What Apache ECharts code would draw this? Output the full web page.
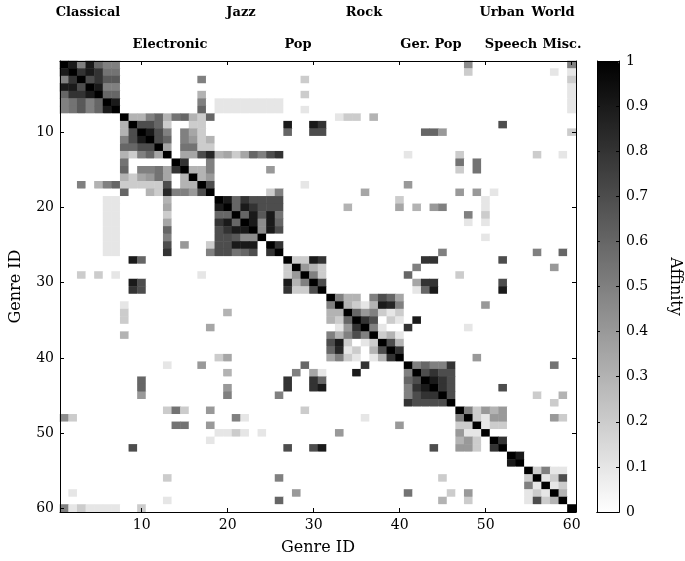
<!DOCTYPE html>
<html>
<head>
<meta charset="utf-8">
<script src="https://cdn.jsdelivr.net/npm/echarts@6/dist/echarts.min.js"></script>
<style>
html,body{margin:0;padding:0;background:#ffffff;}
#chart{width:685px;height:561px;}
</style>
</head>
<body>
<div id="chart"></div>
<script>
// ---------------- DATA ----------------
const genreIds = [1,2,3,4,5,6,7,8,9,10,11,12,13,14,15,16,17,18,19,20,
  21,22,23,24,25,26,27,28,29,30,31,32,33,34,35,36,37,38,39,40,
  41,42,43,44,45,46,47,48,49,50,51,52,53,54,55,56,57,58,59,60];
const axisTickLabels = [10,20,30,40,50,60];
const colorbarTicks = [0,0.1,0.2,0.3,0.4,0.5,0.6,0.7,0.8,0.9,1];
const groupNamesTop = ['Classical','Jazz','Rock','Urban','World'];
const groupNamesBottom = ['Electronic','Pop','Ger. Pop','Speech','Misc.'];
// self-affinity on the diagonal (genre 1..60)
const diagonalAffinity = [1,1,1,1,1,1,1,1,1,1,1,1,1,1,1,1,1,1,1,1,
  1,1,1,1,1,1,1,1,1,1,1,1,1,1,1,1,1,1,1,1,
  1,1,1,1,1,1,1,1,1,1,1,1,1,1,1,1,1,1,1,1];
// symmetric affinity pairs [genreA, genreB, affinity]
const affinityPairs = [
  // Classical
  [1,2,.9],[1,3,.5],[1,4,.9],[1,5,.6],[1,6,.5],[1,7,.5],
  [2,3,.8],[2,4,.9],[2,5,.8],[2,6,.55],[2,7,.55],
  [3,4,.7],[3,5,.8],[3,6,.65],[3,7,.65],
  [4,5,.9],[4,6,.5],[4,7,.5],
  [5,6,.6],[5,7,.6],
  [6,7,.9],
  [3,17,.5],[5,17,.3],[6,17,.5],[7,17,.6],
  [6,19,.1],[6,20,.1],[6,21,.1],[6,22,.1],[6,23,.1],[6,24,.1],[6,25,.1],[6,26,.1],
  [7,19,.1],[7,20,.1],[7,21,.1],[7,22,.1],[7,23,.1],[7,24,.1],[7,25,.1],[7,26,.1],
  [3,29,.2],[5,29,.2],[7,29,.1],
  [1,48,.45],[2,48,.2],[2,58,.1],
  [1,60,.5],[2,60,.1],[3,60,.2],[4,60,.1],[5,60,.1],[6,60,.1],[7,60,.1],
  // Electronic
  [8,9,.3],[8,10,.3],[8,11,.5],[8,12,.6],[8,13,.3],[8,14,.55],[8,15,.6],[8,16,.3],[8,17,.2],[8,18,.6],
  [9,10,.7],[9,11,.7],[9,12,.6],[9,13,.2],[9,16,.2],[9,17,.2],
  [10,11,.9],[10,12,.7],[10,13,.5],[10,15,.5],[10,16,.35],[10,17,.2],
  [11,12,.7],[11,13,.6],[11,15,.5],[11,16,.4],[11,17,.2],[11,18,.3],
  [12,13,.35],[12,15,.55],[12,16,.55],[12,17,.2],[12,18,.2],
  [13,15,.35],[13,16,.35],[13,17,.7],[13,18,.85],
  [14,15,.8],[14,18,.5],
  [15,16,.3],[15,17,.3],[15,18,.5],
  [16,17,.3],[16,18,.4],
  [17,18,.7],
  [8,33,.1],[8,34,.2],[8,35,.2],[8,37,.3],
  [9,27,.9],[9,30,.9],[9,31,.8],[9,52,.7],
  [10,27,.6],[10,30,.7],[10,31,.7],[10,43,.6],[10,44,.6],[10,45,.4],[10,60,.2],
  [13,19,.3],[13,20,.35],[13,21,.2],[13,22,.35],[13,23,.6],[13,24,.5],[13,25,.7],[13,26,.8],
  [13,41,.1],[13,47,.2],[13,56,.2],[13,59,.1],
  [14,47,.55],[14,49,.55],
  [15,25,.4],[15,47,.2],[15,49,.55],
  [17,29,.1],[17,41,.4],
  [18,25,.2],[18,26,.5],[18,36,.35],[18,47,.4],[18,49,.4],[18,51,.1],
  // Jazz
  [19,20,.9],[19,21,.6],[19,22,.8],[19,23,.7],[19,24,.7],[19,25,.7],[19,26,.7],
  [20,21,.6],[20,22,.9],[20,23,.8],[20,24,.7],[20,25,.7],[20,26,.7],
  [21,22,.6],[21,23,.9],[21,24,.65],[21,25,.9],[21,26,.55],
  [22,23,.9],[22,24,.45],[22,25,.9],[22,26,.6],
  [23,24,.45],[23,25,.9],[23,26,.7],
  [25,26,.8],
  [19,40,.2],[19,50,.1],[20,34,.3],[20,40,.35],[20,42,.3],[20,44,.4],[20,45,.5],[20,50,.1],
  [21,48,.5],[21,50,.2],[22,48,.1],[22,50,.1],[24,50,.1],
  [26,45,.5],[26,56,.5],[26,59,.6],
  // Pop
  [27,28,.2],[27,29,.2],[27,30,.9],[27,31,.8],
  [28,29,.4],[28,30,.3],[28,31,.2],
  [29,30,.5],[29,31,.2],
  [30,31,.7],
  [27,43,.8],[27,44,.8],[27,52,.7],[28,42,.5],[28,58,.4],[29,41,.6],[29,47,.2],
  [30,42,.35],[30,43,.8],[30,44,.8],[30,52,.7],[31,42,.1],[31,43,.6],[31,44,.9],[31,52,.9],
  // Rock
  [32,33,.5],[32,34,.3],[32,35,.3],[32,37,.5],[32,38,.7],[32,39,.6],[32,40,.35],
  [33,34,.3],[33,35,.2],[33,36,.1],[33,37,.3],[33,38,.9],[33,39,.85],[33,40,.5],
  [34,35,.6],[34,36,.4],[34,37,.5],[34,38,.2],[34,39,.1],[34,40,.2],
  [35,36,.8],[35,37,.7],[35,39,.2],[35,40,.1],
  [36,37,.5],[36,38,.1],
  [37,38,.2],[37,39,.3],[37,40,.1],
  [38,39,.7],[38,40,.3],
  [39,40,.8],
  [33,50,.4],[35,42,.9],[36,41,.8],[36,48,.1],[40,49,.4],
  // German Pop
  [41,42,.5],[41,43,.6],[41,44,.5],[41,45,.5],[41,46,.8],
  [42,43,.7],[42,44,.8],[42,45,.7],[42,46,.7],
  [43,44,.9],[43,45,.8],[43,46,.7],
  [44,45,.8],[44,46,.7],
  [45,46,.7],
  [41,58,.55],[44,52,.7],[45,56,.2],[45,59,.3],[46,58,.2],
  // Urban
  [47,48,.5],[47,49,.2],[47,50,.4],[47,51,.3],[47,52,.4],
  [48,49,.2],[48,50,.1],[48,51,.4],[48,52,.4],
  [49,50,.1],[49,51,.2],[49,52,.2],
  [51,52,.8],
  [48,58,.4],[48,59,.2],
  // Speech
  [53,54,.9],
  // World
  [55,56,.2],[55,57,.5],[55,58,.1],[55,59,.1],
  [56,57,.1],[56,58,.2],[56,59,.7],
  [57,58,.1],[57,59,.2],
  [58,59,.3]
];

// ---------------- BUILD MATRIX ----------------
const n = genreIds.length;
const M = genreIds.map(() => genreIds.map(() => 0));
diagonalAffinity.forEach((v, i) => { M[i][i] = v; });
affinityPairs.forEach(([a, b, v]) => { M[a-1][b-1] = v; M[b-1][a-1] = v; });
const cells = [];
for (let r = 0; r < n; r++) for (let c = 0; c < n; c++) cells.push([c, r, M[r][c]]);

// ---------------- STYLE ----------------
const FONT = 'DejaVu Serif';
const isTick = (i) => axisTickLabels.indexOf(genreIds[i]) >= 0;
const tickStyle = { show: true, inside: true, length: 4, alignWithLabel: true, interval: (i) => isTick(i), lineStyle: { color: '#000', width: 1 } };
const lineStyle = { show: true, lineStyle: { color: '#000', width: 1 } };

const topLabelX = [88, 241, 364, 502, 553];
const bottomLabelX = [170, 298, 431, 511, 562];
const graphics = [];
groupNamesTop.forEach((t, i) => graphics.push({ type: 'text', x: topLabelX[i], y: 13, style: { text: t, fill: '#000', font: 'bold 13px "' + FONT + '"', textAlign: 'center', textVerticalAlign: 'middle' } }));
groupNamesBottom.forEach((t, i) => graphics.push({ type: 'text', x: bottomLabelX[i], y: 45, style: { text: t, fill: '#000', font: 'bold 13px "' + FONT + '"', textAlign: 'center', textVerticalAlign: 'middle' } }));

const chart = echarts.init(document.getElementById('chart'), null, { renderer: 'canvas' });
chart.setOption({
  animation: false,
  backgroundColor: '#ffffff',
  textStyle: { fontFamily: FONT, color: '#000' },
  grid: [
    { left: 58, top: 61, width: 518, height: 451 },
    { left: 597, top: 61, width: 22, height: 451 }
  ],
  xAxis: [
    { type: 'category', gridIndex: 0, data: genreIds, position: 'bottom', z: 10,
      axisLine: lineStyle, axisTick: tickStyle,
      axisLabel: { interval: (i) => isTick(i), color: '#000', fontFamily: FONT, fontSize: 14, margin: 6 },
      splitLine: { show: false },
      name: 'Genre ID', nameLocation: 'middle', nameGap: 28, nameTextStyle: { fontFamily: FONT, fontSize: 16, color: '#000' } },
    { type: 'category', gridIndex: 0, data: genreIds, position: 'top', z: 10,
      axisLine: lineStyle, axisTick: tickStyle, axisLabel: { show: false }, splitLine: { show: false } },
    { type: 'category', gridIndex: 1, data: [''], position: 'bottom', z: 10,
      axisLine: lineStyle, axisTick: { show: false }, axisLabel: { show: false } },
    { type: 'category', gridIndex: 1, data: [''], position: 'top', z: 10,
      axisLine: lineStyle, axisTick: { show: false }, axisLabel: { show: false } }
  ],
  yAxis: [
    { type: 'category', gridIndex: 0, data: genreIds, inverse: true, position: 'left', z: 10,
      axisLine: lineStyle, axisTick: tickStyle,
      axisLabel: { interval: (i) => isTick(i), color: '#000', fontFamily: FONT, fontSize: 14, margin: 6 },
      splitLine: { show: false },
      name: 'Genre ID', nameLocation: 'middle', nameGap: 36, nameRotate: 90, nameTextStyle: { fontFamily: FONT, fontSize: 16, color: '#000' } },
    { type: 'category', gridIndex: 0, data: genreIds, inverse: true, position: 'right', z: 10,
      axisLine: lineStyle, axisTick: tickStyle, axisLabel: { show: false }, splitLine: { show: false } },
    { type: 'value', gridIndex: 1, min: 0, max: 1, interval: 0.1, position: 'left', z: 10,
      axisLine: lineStyle, axisTick: { show: true, inside: true, length: 3, lineStyle: { color: '#000' } },
      axisLabel: { show: false }, splitLine: { show: false } },
    { type: 'value', gridIndex: 1, min: 0, max: 1, interval: 0.1, position: 'right', z: 10,
      axisLine: lineStyle, axisTick: { show: true, inside: true, length: 3, lineStyle: { color: '#000' } },
      axisLabel: { color: '#000', fontFamily: FONT, fontSize: 14, margin: 7,
        formatter: (v) => { const k = colorbarTicks.find(t => Math.abs(t - v) < 1e-6); return String(k); } },
      splitLine: { show: false },
      name: 'Affinity', nameLocation: 'middle', nameGap: 48, nameRotate: -90, nameTextStyle: { fontFamily: FONT, fontSize: 16, color: '#000' } }
  ],
  visualMap: {
    type: 'continuous', min: 0, max: 1, seriesIndex: 0, calculable: false, hoverLink: false,
    left: 597, top: 61, itemWidth: 22, itemHeight: 451, padding: 0,
    inRange: { color: ['#ffffff', '#000000'] }
  },
  graphic: graphics,
  series: [{
    type: 'heatmap', xAxisIndex: 0, yAxisIndex: 0, data: cells,
    itemStyle: { borderWidth: 0 }, emphasis: { disabled: true }, progressive: 0
  }]
});
</script>
</body>
</html>
